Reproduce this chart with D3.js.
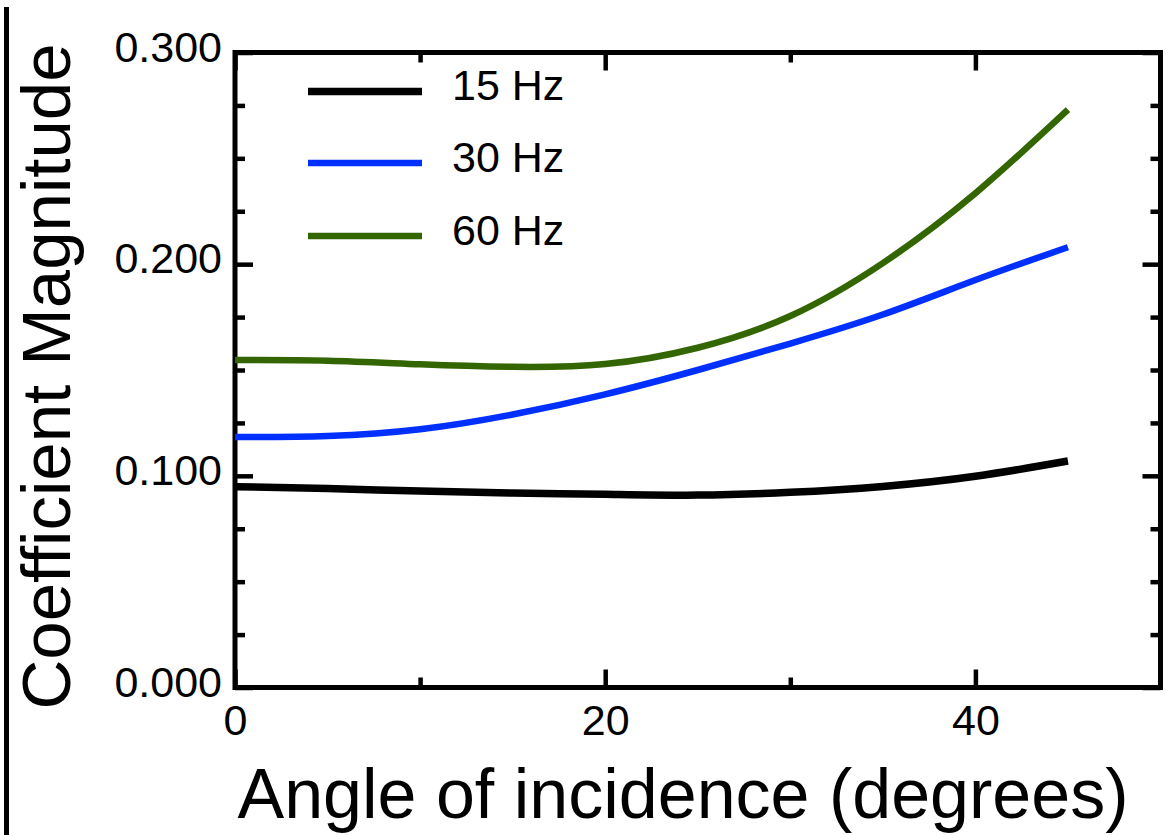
<!DOCTYPE html>
<html>
<head>
<meta charset="utf-8">
<script src="https://cdn.jsdelivr.net/npm/d3@7"></script>
<style>
  body { margin: 0; background: #fff; }
  svg { display: block; }
  text { font-family: "Liberation Sans", Arial, Helvetica, sans-serif; fill: #000; }
</style>
</head>
<body>
<svg id="chart" width="1166" height="835"></svg>
<script>
// Angle of incidence (degrees) and coefficient magnitude per frequency
const angles = [0, 5, 10, 15, 20, 25, 30, 35, 40, 45];
const hz15 = [0.0949, 0.0940, 0.0928, 0.0919, 0.0913, 0.0909, 0.0922, 0.0950, 0.0998, 0.1070];
const hz30 = [0.1183, 0.1188, 0.1220, 0.1290, 0.1385, 0.1500, 0.1625, 0.1762, 0.1925, 0.2080];
const hz60 = [0.1547, 0.1544, 0.1527, 0.1515, 0.1528, 0.1605, 0.1755, 0.2005, 0.2335, 0.2730];

const seriesNames = ["15 Hz", "30 Hz", "60 Hz"];
const seriesValues = [hz15, hz30, hz60];
const seriesColors = ["#000000", "#0030ff", "#336600"];
const seriesWidths = [7.5, 6.5, 6.5];

const xMajorTicks = [0, 20, 40];
const xMinorTicks = [10, 30];
const yMajorTicks = [0, 0.1, 0.2, 0.3];
const yMinorTicks = [0.025, 0.05, 0.075, 0.125, 0.15, 0.175, 0.225, 0.25, 0.275];

const xTitle = "Angle of incidence (degrees)";
const yTitle = "Coefficient Magnitude";

const svg = d3.select("#chart");

const plot = { left: 235, right: 1160.5, top: 52.5, bottom: 687.5 };
const x = d3.scaleLinear().domain([0, 50]).range([plot.left, plot.right]);
const y = d3.scaleLinear().domain([0, 0.3]).range([plot.bottom, plot.top]);

// vertical rule at the far left edge
svg.append("line")
  .attr("x1", 6.5).attr("x2", 6.5)
  .attr("y1", 7).attr("y2", 835)
  .attr("stroke", "#000").attr("stroke-width", 5);

const tickFont = 43;

function styleAxis(g) {
  g.select(".domain").remove();
  g.selectAll(".tick line").attr("stroke", "#000").attr("stroke-width", 4.5);
  g.selectAll(".tick text")
    .attr("fill", "#000")
    .style("font-size", tickFont + "px")
    .style("font-family", '"Liberation Sans", Arial, Helvetica, sans-serif');
}

// bottom axis: labelled major ticks and minor ticks, pointing inward
svg.append("g")
  .attr("transform", `translate(0,${plot.bottom})`)
  .call(d3.axisBottom(x).tickValues(xMajorTicks).tickSize(-18).tickPadding(17).tickFormat(d3.format("d")))
  .call(styleAxis);
svg.append("g")
  .attr("transform", `translate(0,${plot.bottom})`)
  .call(d3.axisBottom(x).tickValues(xMinorTicks).tickSize(-10).tickFormat(""))
  .call(styleAxis);

// top axis mirrors the bottom ticks
svg.append("g")
  .attr("transform", `translate(0,${plot.top})`)
  .call(d3.axisTop(x).tickValues(xMajorTicks).tickSize(-18).tickFormat(""))
  .call(styleAxis);
svg.append("g")
  .attr("transform", `translate(0,${plot.top})`)
  .call(d3.axisTop(x).tickValues(xMinorTicks).tickSize(-10).tickFormat(""))
  .call(styleAxis);

// left axis
const yLeft = svg.append("g")
  .attr("transform", `translate(${plot.left},0)`)
  .call(d3.axisLeft(y).tickValues(yMajorTicks).tickSize(-18).tickPadding(13).tickFormat(d3.format(".3f")))
  .call(styleAxis);
yLeft.selectAll(".tick text").attr("dy", "0.2em");
svg.append("g")
  .attr("transform", `translate(${plot.left},0)`)
  .call(d3.axisLeft(y).tickValues(yMinorTicks).tickSize(-10).tickFormat(""))
  .call(styleAxis);

// right axis mirrors the left ticks
svg.append("g")
  .attr("transform", `translate(${plot.right},0)`)
  .call(d3.axisRight(y).tickValues(yMajorTicks).tickSize(-18).tickFormat(""))
  .call(styleAxis);
svg.append("g")
  .attr("transform", `translate(${plot.right},0)`)
  .call(d3.axisRight(y).tickValues(yMinorTicks).tickSize(-10).tickFormat(""))
  .call(styleAxis);

// frame
svg.append("rect")
  .attr("x", plot.left).attr("y", plot.top)
  .attr("width", plot.right - plot.left).attr("height", plot.bottom - plot.top)
  .attr("fill", "none").attr("stroke", "#000").attr("stroke-width", 5);

// curves
const line = d3.line()
  .x(d => x(d[0]))
  .y(d => y(d[1]))
  .curve(d3.curveNatural);

seriesValues.forEach((vals, i) => {
  svg.append("path")
    .datum(angles.map((a, k) => [a, vals[k]]))
    .attr("fill", "none")
    .attr("stroke", seriesColors[i])
    .attr("stroke-width", seriesWidths[i])
    .attr("d", line);
});

// legend
const legendLineY = [91.5, 163, 236];
seriesNames.forEach((name, i) => {
  svg.append("line")
    .attr("x1", 308).attr("x2", 422)
    .attr("y1", legendLineY[i]).attr("y2", legendLineY[i])
    .attr("stroke", seriesColors[i])
    .attr("stroke-width", seriesWidths[i]);
  svg.append("text")
    .attr("x", 452).attr("y", legendLineY[i] + 8.5)
    .style("font-size", tickFont + "px")
    .text(name);
});

// axis titles
svg.append("text")
  .attr("x", 683).attr("y", 818)
  .attr("text-anchor", "middle")
  .style("font-size", "70px")
  .text(xTitle);

svg.append("text")
  .attr("transform", "translate(70,376.5) rotate(-90)")
  .attr("text-anchor", "middle")
  .style("font-size", "69px")
  .text(yTitle);
</script>
</body>
</html>
